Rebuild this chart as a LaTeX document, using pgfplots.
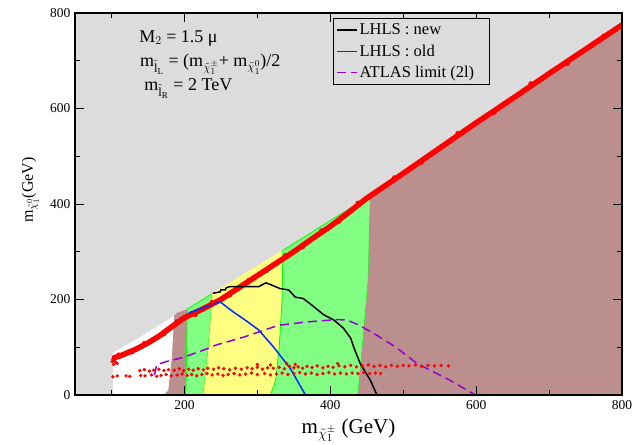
\documentclass[border=0pt]{standalone}
\usepackage{fontspec}
\setmainfont{Liberation Serif}
\usepackage{pgfplots}
\pgfplotsset{compat=1.18}

\definecolor{bggray}{RGB}{220,220,220}
\definecolor{rosy}{RGB}{188,143,143}
\definecolor{lgreen}{RGB}{130,255,130}
\definecolor{lyellow}{RGB}{255,255,130}
\definecolor{edgegreen}{RGB}{0,255,0}
\definecolor{atlas}{RGB}{148,0,211}
\definecolor{oldblue}{RGB}{0,40,255}

\begin{document}
\begin{tikzpicture}
\begin{axis}[
  scale only axis, width=547pt, height=382pt,
  xmin=50, xmax=800, ymin=0, ymax=800,
  xtick={200,400,600,800}, minor xtick={100,300,500,700},
  ytick={0,200,400,600,800}, minor ytick={100,300,500,700},
  tick align=inside, major tick length=9pt, minor tick length=5pt,
  tick style={black, line width=1pt},
  axis line style={line width=1.5pt},
  axis background/.style={fill=bggray},
  axis on top,
  tick label style={font=\fontsize{13.5}{16}\selectfont},
  /pgf/number format/assume math mode=true,
  xticklabel style={yshift=-2pt},
  yticklabel style={xshift=-1pt},
  every axis x label/.style={at={(axis description cs:0.5,0)}, anchor=base, yshift=-38pt, font=\fontsize{21}{24}\selectfont},
  every axis y label/.style={at={(axis description cs:-0.077,0.537)}, rotate=90, anchor=base, font=\fontsize{16}{19}\selectfont},
  xlabel={m$_{\tilde{\chi}^{\pm}_1}$ (GeV)},
  ylabel={m$_{\tilde{\chi}^{0}_1}$(GeV)},
  legend style={at={(0.471,0.986)}, anchor=north west, draw=black, line width=1pt,
    fill=bggray, font=\fontsize{16.5}{19}\selectfont, inner xsep=3pt, inner ysep=3pt, row sep=4.5pt},
  legend cell align=left,
  legend image code/.code={\draw[#1, line width=1.5pt] (0pt,0pt) -- (20pt,0pt);},
]
% white strip
\addplot[fill=white, draw=none, forget plot] coordinates {
  (102,0) (102,88) (140,122) (180,160) (186,166) (183,80) (178,10) (172,0)} -- cycle;
% narrow excluded strip
\addplot[fill=rosy, draw=none, forget plot] coordinates {
  (172,0) (178,10) (183,80) (186,166) (190,172) (204,180) (202,0)} -- cycle;
% green band left
\addplot[fill=lgreen, draw=edgegreen, line width=0.8pt, forget plot] coordinates {
  (202,0) (204,180) (238,212) (238,200) (233,100) (226,0)} -- cycle;
% yellow band
\addplot[fill=lyellow, draw=none, forget plot] coordinates {
  (226,0) (233,100) (238,200) (238,212) (280,252) (335,303) (335,300) (334,200) (330,100) (325,30) (318,0)} -- cycle;
% green band right
\addplot[fill=lgreen, draw=edgegreen, line width=0.8pt, forget plot] coordinates {
  (318,0) (325,30) (330,100) (334,200) (335,303) (400,365) (455,418) (452,240) (444,100) (438,0)} -- cycle;
% large excluded region
\addplot[fill=rosy, draw=none, forget plot] coordinates {
  (438,0) (444,100) (452,240) (455,418) (475,438) (500,464) (550,517) (600,570)
  (650,621) (700,673) (750,724) (800,773) (800,0)} -- cycle;

% red scan points, lower rows
\addplot[only marks, mark=*, mark size=1.5pt, red, forget plot] coordinates {
  (101,70) (102,75) (103,80) (104,72) (106,68) (108,66) (103,64)
  (139,51) (145,53) (152,50) (158,52) (165,54) (172,51) (178,53) (186,52) (193,55) (199,51)
  (206,54) (212,52) (219,55) (226,53) (232,56) (240,54) (247,57) (254,55) (262,53) (270,56)
  (278,54) (286,57) (293,55) (300,58) (307,54) (314,57) (322,56) (330,58) (337,55) (344,60)
  (350,57) (356,59) (362,56) (368,60) (375,58) (382,61) (390,57) (397,60) (404,58) (412,61)
  (420,59) (428,62) (436,59) (444,61) (452,63) (460,60) (468,62) (476,59) (484,62) (492,60)
  (500,62) (508,61) (517,63) (525,60) (534,62) (543,61) (552,62) (562,61)
  (340,66) (352,64) (318,63) (410,66) (300,64)
  (102,38) (108,40) (120,40) (125,39) (140,41) (146,40) (155,42) (162,39) (168,41) (175,43)
  (182,40) (190,42) (197,44) (204,41) (210,43) (217,40) (224,43) (231,45) (238,42) (246,44)
  (253,41) (260,43) (268,45) (276,42) (284,44) (292,46) (300,43) (310,45) (318,42) (326,44)
  (334,46) (342,43) (350,45) (358,47) (366,44) (374,46) (382,43) (390,45) (398,47) (406,44)
  (414,46) (422,44) (430,46) (438,45) (446,47) (454,45) (462,46) (469,45)
};
% red scan points, diagonal band
\addplot[red, line width=5.5pt, line join=round, line cap=round, forget plot] coordinates {
  (104,78) (112,82) (120,87) (135,97) (150,109) (165,123) (180,140) (200,162) (225,180)
  (250,200) (275,225) (300,250) (325,275) (350,300) (375,327) (400,353) (425,382)
  (450,412) (475,438) (500,464) (550,517) (600,570) (650,621) (700,673) (750,724) (800,775)
};
\addplot[only marks, mark=*, mark size=2.2pt, red, forget plot] coordinates {
  (110,84) (128,90) (145,108) (172,128) (190,154) (215,168) (238,194) (262,209) (288,240)
  (312,260) (338,292) (362,310) (388,344) (412,364) (438,402) (462,423) (488,455)
  (525,487) (575,548) (625,592) (675,652) (725,694) (775,752)
};

\addplot[draw=black, line width=1.5pt] coordinates {
  (239,213) (249,216) (250,220) (256,220) (257,224) (262,227) (302,227) (312,235) (320,230)
  (331,223) (343,220) (352,205) (363,202) (375,188) (391,168) (405,157) (418,140)
  (428,119) (432,101) (441,66) (455,31) (464,0)
};
\addlegendentry{LHLS : new}
\addplot[draw=oldblue, line width=1.5pt] coordinates {
  (206,172) (226,183) (249,195) (267,174) (286,154) (302,136) (322,101) (345,56) (366,0)
};
\addlegendentry{LHLS : old}
\addplot[draw=atlas, line width=1.5pt, dash pattern=on 9pt off 5pt] coordinates {
  (159,42) (162,63) (175,70) (194,77) (208,84) (226,94) (244,105) (281,121) (329,146)
  (368,153) (409,158) (423,157) (440,146) (464,125) (490,100) (519,66) (564,31) (599,0)
};
\addlegendentry{ATLAS limit (2l)\kern10pt}

\node[anchor=base west, font=\fontsize{18}{20}\selectfont, inner sep=0pt] at (axis cs:138,739) {M$_2$ = 1.5 μ};
\node[anchor=base west, font=\fontsize{18}{20}\selectfont, inner sep=0pt] at (axis cs:139,687)
  {m$_{\tilde{\mathrm{l}}_{\mathrm{L}}}$ = (m$_{\tilde{\chi}^{\pm}_1}$+ m$_{\tilde{\chi}^{0}_1}$)/2};
\node[anchor=base west, font=\fontsize{18}{20}\selectfont, inner sep=0pt] at (axis cs:145,637)
  {m$_{\tilde{\mathrm{l}}_{\mathrm{R}}}$ = 2 TeV};
\end{axis}
\pgfresetboundingbox
\path (-75pt,-50pt) rectangle (558pt,395pt);
\end{tikzpicture}
\end{document}
